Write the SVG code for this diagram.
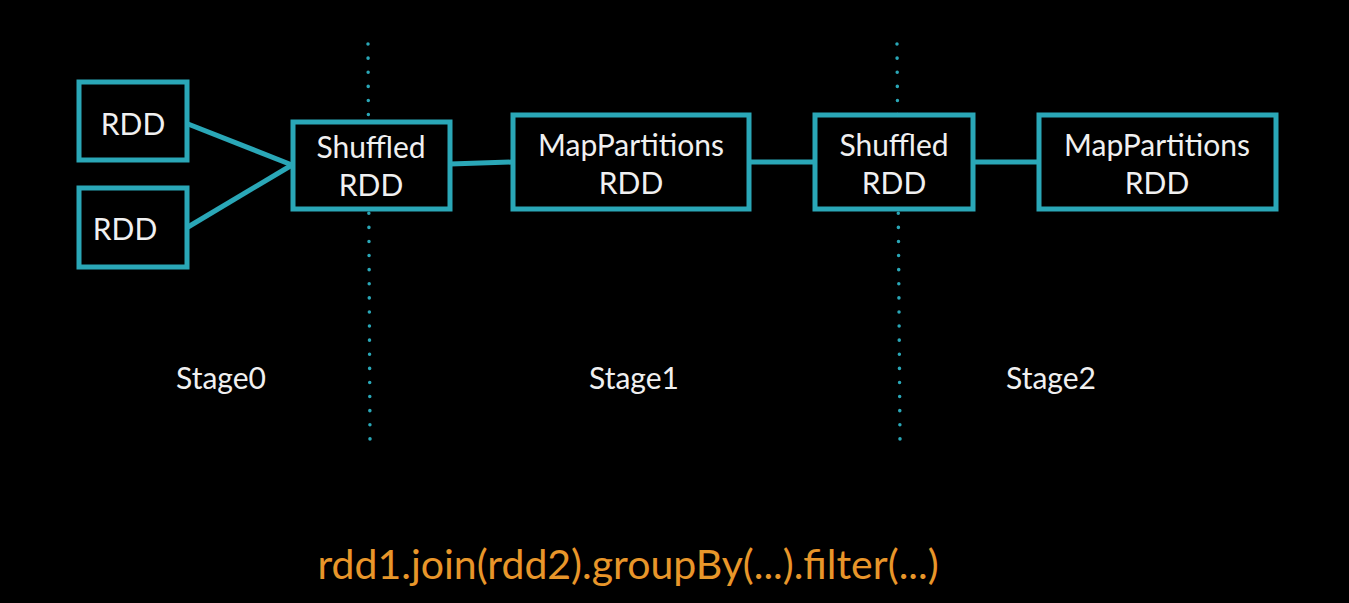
<svg xmlns="http://www.w3.org/2000/svg" width="1349" height="603" viewBox="0 0 1349 603">
<style>
.box{fill:#000;stroke:#2aa7b7;stroke-width:5}
.lbl{font-family:Lato,"Open Sans",sans-serif;font-size:30px;fill:#f0f0f0;text-anchor:middle}
.conn{stroke:#2aa7b7;stroke-width:5;fill:none}
.div{stroke:#2aa7b7;stroke-width:3.5;stroke-dasharray:0.1 14;stroke-linecap:round;fill:none}
.stage{font-family:Lato,"Open Sans",sans-serif;font-size:30px;fill:#f0f0f0;text-anchor:middle}
</style>
<rect width="1349" height="603" fill="#000"/>
<g id="dividers">
<line class="div" x1="368" y1="44" x2="370" y2="440"/>
<line class="div" x1="897" y1="44" x2="900" y2="440"/>
</g>
<g id="connectors">
<line class="conn" x1="188" y1="124" x2="292" y2="165"/>
<line class="conn" x1="188" y1="227" x2="292" y2="165"/>
<line class="conn" x1="450" y1="164" x2="512" y2="162"/>
<line class="conn" x1="749" y1="162" x2="815" y2="162"/>
<line class="conn" x1="973" y1="162" x2="1039" y2="162"/>
</g>
<g id="rdd1"><rect class="box" x="79" y="82" width="108" height="78"/><text class="lbl" x="133" y="135">RDD</text></g>
<g id="rdd2"><rect class="box" x="79" y="188" width="108" height="79"/><text class="lbl" x="125" y="240">RDD</text></g>
<g id="shuffled1"><rect class="box" x="293" y="122" width="157" height="87"/><text class="lbl" x="371" y="158">Shuffled</text><text class="lbl" x="371" y="196">RDD</text></g>
<g id="mappart1"><rect class="box" x="513" y="115" width="236" height="94"/><text class="lbl" x="631" y="156">MapPartitions</text><text class="lbl" x="631" y="194">RDD</text></g>
<g id="shuffled2"><rect class="box" x="815" y="115" width="158" height="94"/><text class="lbl" x="894" y="156">Shuffled</text><text class="lbl" x="894" y="194">RDD</text></g>
<g id="mappart2"><rect class="box" x="1039" y="115" width="237" height="94"/><text class="lbl" x="1157" y="156">MapPartitions</text><text class="lbl" x="1157" y="194">RDD</text></g>
<g id="stages">
<text class="stage" x="221" y="389">Stage0</text>
<text class="stage" x="634" y="389">Stage1</text>
<text class="stage" x="1051" y="389">Stage2</text>
</g>
<text x="628" y="579" font-family="Lato,'Open Sans',sans-serif" font-size="41" fill="#e8962a" text-anchor="middle">rdd1.join(rdd2).groupBy(...).filter(...)</text>
</svg>
